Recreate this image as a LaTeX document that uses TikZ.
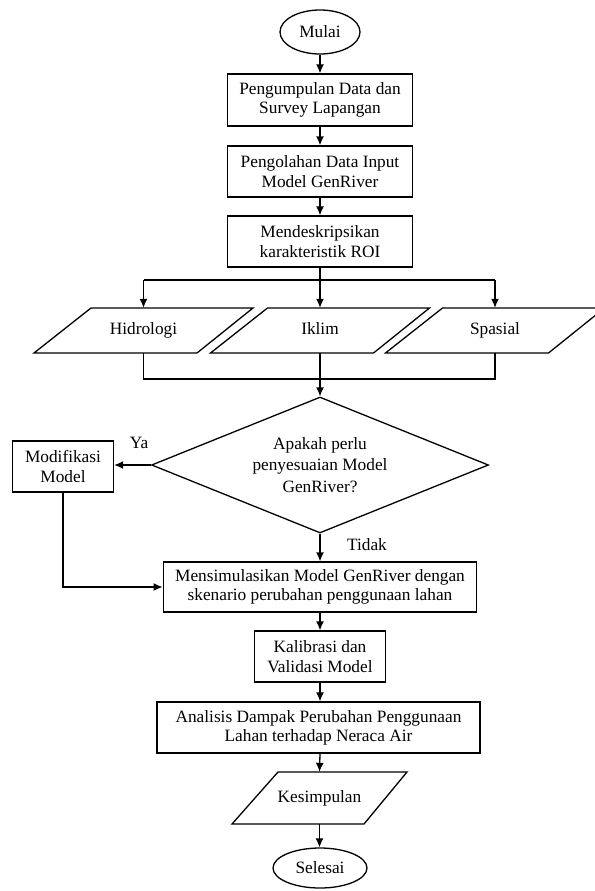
\documentclass[tikz,border=0pt]{standalone}
\usepackage{fontspec}
\setmainfont{Liberation Serif}
\usetikzlibrary{shapes.geometric,arrows.meta}
\begin{document}
\begin{tikzpicture}[x=1pt,y=-1pt,
  every node/.style={font=\fontsize{17.3}{19.3}\selectfont, inner sep=0pt, align=center},
  box/.style={draw, rectangle, line width=1.3pt},
  term/.style={draw, ellipse, line width=1.3pt},
  iotext/.style={rectangle, minimum width=150pt, text height=11.5pt, text depth=3.5pt},
  dec/.style={draw, diamond, aspect=2.48, line width=1.3pt, font=\fontsize{17.3}{21.7}\selectfont},
  arr/.style={line width=1.3pt, -{Latex[length=9pt,width=8pt]}},
  ln/.style={line width=1.3pt, line join=miter}
]
\useasboundingbox (0,0) rectangle (594,891);
\node[term, minimum width=80pt, minimum height=44pt] (mulai) at (320,32) {Mulai};
\node[box, minimum width=185pt, minimum height=52pt] (b1) at (320,100) {Pengumpulan Data dan\\Survey Lapangan};
\node[box, minimum width=185pt, minimum height=51pt] (b2) at (320,171.5) {Pengolahan Data Input\\Model GenRiver};
\node[box, minimum width=185pt, minimum height=51pt] (b3) at (320,241.5) {Mendeskripsikan\\karakteristik ROI};
\node[iotext, minimum height=45pt] (hid) at (143.5,330.5) {Hidrologi};
\node[iotext, minimum height=45pt] (ikl) at (320,330.5) {Iklim};
\node[iotext, minimum height=45pt] (spa) at (495,330.5) {Spasial};
\foreach \n in {hid,ikl,spa}{
  \draw[ln, shift={(\n.center)}] (-109.5,22.5) -- (-52.5,-22.5) -- (109.5,-22.5) -- (53.5,22.5) -- cycle;
}
\node[dec, minimum width=337pt, minimum height=136pt] (dec) at (320,465) {Apakah perlu\\penyesuaian Model\\GenRiver?};
\node[box, minimum width=101pt, minimum height=51pt] (mod) at (63,466.5) {Modifikasi\\Model};
\node (ya) at (139,443) {Ya};
\node (tidak) at (367,545) {Tidak};
\node[box, minimum width=313.5pt, minimum height=50pt] (sim) at (320,587) {Mensimulasikan Model GenRiver dengan\\skenario perubahan penggunaan lahan};
\node[box, minimum width=131pt, minimum height=51pt] (kal) at (320,656.5) {Kalibrasi dan\\Validasi Model};
\node[box, minimum width=323pt, minimum height=51pt] (ana) at (318.5,727.5) {Analisis Dampak Perubahan Penggunaan\\Lahan terhadap Neraca Air};
\node[iotext, minimum width=120pt, minimum height=52pt] (kes) at (319.5,798) {Kesimpulan};
\draw[ln, shift={(kes.center)}] (-87.5,26) -- (-41.5,-26) -- (87.5,-26) -- (44.5,26) -- cycle;
\node[term, minimum width=94pt, minimum height=40pt] (sel) at (320,868) {Selesai};
\coordinate (s1) at (320,280);
\coordinate (m1) at (320,379);
\draw[arr] (mulai.south) -- (mulai.south |- b1.north);
\draw[arr] (b1.south) -- (b1.south |- b2.north);
\draw[arr] (b2.south) -- (b2.south |- b3.north);
\draw[ln] (b3.south) -- (s1);
\draw[ln] (hid.center |- s1) -- (spa.center |- s1);
\draw[arr] (hid.center |- s1) -- (hid.north);
\draw[arr] (s1) -- (ikl.north);
\draw[arr] (spa.center |- s1) -- (spa.north);
\draw[ln] (hid.south) -- (hid.center |- m1) -- (spa.center |- m1) -- (spa.south);
\draw[ln] (ikl.south) -- (m1);
\draw[arr] (m1) -- (dec.north);
\draw[arr] (dec.west) -- (dec.west -| mod.east);
\draw[arr] (mod.south) |- (sim.west);
\draw[arr] (dec.south) -- (dec.south |- sim.north);
\draw[arr] (sim.south) -- (sim.south |- kal.north);
\draw[arr] (kal.south) -- (kal.south |- ana.north);
\draw[arr] (kal.south |- ana.south) -- (kes.north);
\draw[arr] (kes.south) -- (kes.south |- sel.north);
\end{tikzpicture}
\end{document}
